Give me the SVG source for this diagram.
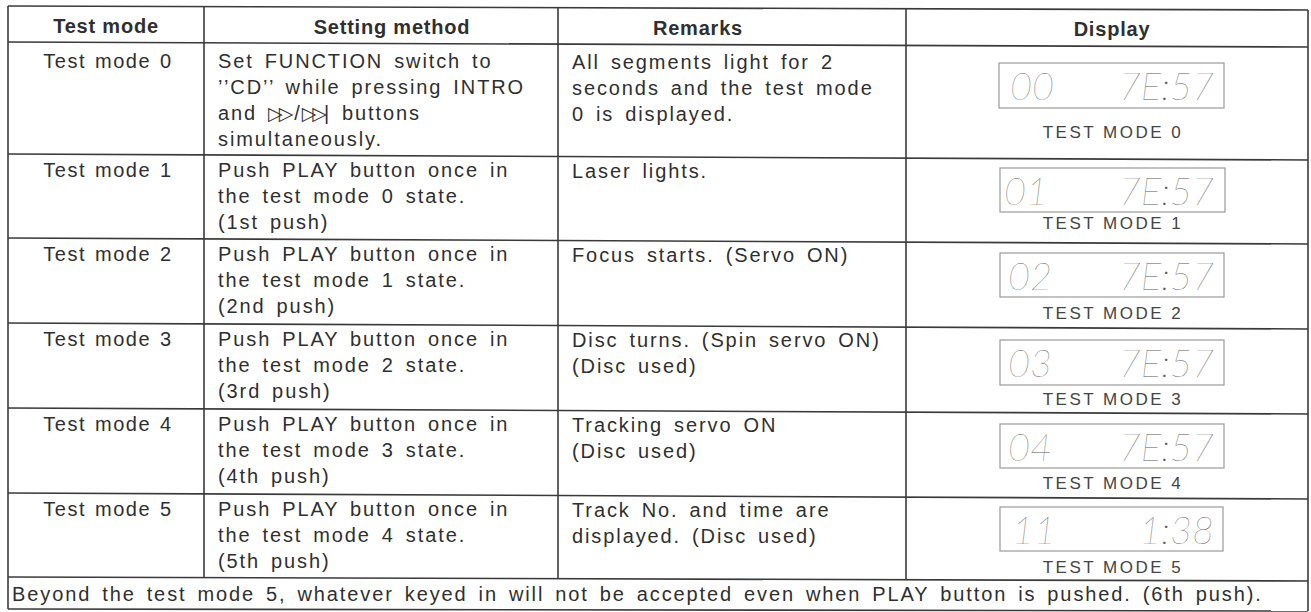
<svg xmlns="http://www.w3.org/2000/svg" width="1311" height="612" viewBox="0 0 1311 612">
<style>
.ln{stroke:#3a3a3a;stroke-width:1.6;fill:none}
.t{font-family:"Liberation Sans",Arial,sans-serif;font-size:20px;fill:#2f2f2f;letter-spacing:1.9px;word-spacing:3.5px}
.t1{font-family:"Liberation Sans",Arial,sans-serif;font-size:20px;fill:#2f2f2f;letter-spacing:1.5px;word-spacing:2px;text-anchor:middle}
.h{font-family:"Liberation Sans",Arial,sans-serif;font-size:20px;font-weight:bold;fill:#2f2f2f;letter-spacing:0.8px;text-anchor:middle}
.box{fill:none;stroke:#999;stroke-width:1.2}
.seg{font-family:Lato,Roboto,Inter,sans-serif;font-weight:200;font-style:italic;font-size:38px;fill:#5a5a5a}
.lab{font-family:"Liberation Sans",Arial,sans-serif;font-size:17px;fill:#444;letter-spacing:2.5px;text-anchor:middle}
.sym{font-family:"DejaVu Sans",sans-serif;font-size:19px;letter-spacing:-4px}
</style>
<rect width="1311" height="612" fill="#fff"/>
<g id="grid">
<line class="ln" x1="8" y1="6" x2="1308" y2="10"/>
<line class="ln" x1="8" y1="42" x2="1308" y2="47"/>
<line class="ln" x1="8" y1="154" x2="1308" y2="160"/>
<line class="ln" x1="8" y1="238" x2="1308" y2="244"/>
<line class="ln" x1="8" y1="323" x2="1308" y2="329"/>
<line class="ln" x1="8" y1="408" x2="1308" y2="414"/>
<line class="ln" x1="8" y1="493" x2="1308" y2="499"/>
<line class="ln" x1="8" y1="577" x2="1308" y2="581"/>
<line class="ln" x1="8" y1="609" x2="1308" y2="611"/>
<line class="ln" x1="8" y1="6" x2="8" y2="609"/>
<line class="ln" x1="204" y1="7" x2="204" y2="578"/>
<line class="ln" x1="558" y1="8" x2="558" y2="579"/>
<line class="ln" x1="906" y1="9" x2="906" y2="580"/>
<line class="ln" x1="1308" y1="10" x2="1308" y2="611"/>
</g>
<g id="header">
<text class="h" x="106" y="33">Test mode</text>
<text class="h" x="392" y="34">Setting method</text>
<text class="h" x="698" y="35">Remarks</text>
<text class="h" x="1112" y="36">Display</text>
</g>
<g id="row0">
<text class="t1" x="108" y="68">Test mode 0</text>
<text class="t" x="218" y="68">Set FUNCTION switch to</text>
<text class="t" x="218" y="94">’’CD’’ while pressing INTRO</text>
<text class="t" x="218" y="120">and <tspan class="sym">▷▷</tspan><tspan dx="5">/</tspan><tspan class="sym">▷▷</tspan><tspan dx="1">|</tspan> buttons</text>
<text class="t" x="218" y="146">simultaneously.</text>
<text class="t" x="572" y="69">All segments light for 2</text>
<text class="t" x="572" y="95">seconds and the test mode</text>
<text class="t" x="572" y="121">0 is displayed.</text>
<rect class="box" x="999" y="63" width="225" height="45"/>
<text class="seg" x="1010" y="100">00</text>
<text class="seg" x="1214" y="100" text-anchor="end">7E:57</text>
<text class="lab" x="1113" y="138">TEST MODE 0</text>
</g>
<g id="row1">
<text class="t1" x="108" y="177">Test mode 1</text>
<text class="t" x="218" y="177">Push PLAY button once in</text>
<text class="t" x="218" y="203">the test mode 0 state.</text>
<text class="t" x="218" y="229">(1st push)</text>
<text class="t" x="572" y="178">Laser lights.</text>
<rect class="box" x="1000" y="168" width="225" height="44"/>
<text class="seg" x="1004" y="205">01</text>
<text class="seg" x="1214" y="205" text-anchor="end">7E:57</text>
<text class="lab" x="1113" y="229">TEST MODE 1</text>
</g>
<g id="row2">
<text class="t1" x="108" y="261">Test mode 2</text>
<text class="t" x="218" y="261">Push PLAY button once in</text>
<text class="t" x="218" y="287">the test mode 1 state.</text>
<text class="t" x="218" y="313">(2nd push)</text>
<text class="t" x="572" y="262">Focus starts. (Servo ON)</text>
<rect class="box" x="1000" y="253" width="224" height="44"/>
<text class="seg" x="1008" y="290">02</text>
<text class="seg" x="1214" y="290" text-anchor="end">7E:57</text>
<text class="lab" x="1113" y="319">TEST MODE 2</text>
</g>
<g id="row3">
<text class="t1" x="108" y="346">Test mode 3</text>
<text class="t" x="218" y="346">Push PLAY button once in</text>
<text class="t" x="218" y="372">the test mode 2 state.</text>
<text class="t" x="218" y="398">(3rd push)</text>
<text class="t" x="572" y="347">Disc turns. (Spin servo ON)</text>
<text class="t" x="572" y="373">(Disc used)</text>
<rect class="box" x="1000" y="340" width="224" height="45"/>
<text class="seg" x="1008" y="377">03</text>
<text class="seg" x="1214" y="377" text-anchor="end">7E:57</text>
<text class="lab" x="1113" y="405">TEST MODE 3</text>
</g>
<g id="row4">
<text class="t1" x="108" y="431">Test mode 4</text>
<text class="t" x="218" y="431">Push PLAY button once in</text>
<text class="t" x="218" y="457">the test mode 3 state.</text>
<text class="t" x="218" y="483">(4th push)</text>
<text class="t" x="572" y="432">Tracking servo ON</text>
<text class="t" x="572" y="458">(Disc used)</text>
<rect class="box" x="1000" y="424" width="224" height="44"/>
<text class="seg" x="1008" y="461">04</text>
<text class="seg" x="1214" y="461" text-anchor="end">7E:57</text>
<text class="lab" x="1113" y="489">TEST MODE 4</text>
</g>
<g id="row5">
<text class="t1" x="108" y="516">Test mode 5</text>
<text class="t" x="218" y="516">Push PLAY button once in</text>
<text class="t" x="218" y="542">the test mode 4 state.</text>
<text class="t" x="218" y="568">(5th push)</text>
<text class="t" x="572" y="517">Track No. and time are</text>
<text class="t" x="572" y="543">displayed. (Disc used)</text>
<rect class="box" x="1000" y="507" width="223" height="44"/>
<text class="seg" x="1012" y="544">11</text>
<text class="seg" x="1214" y="544" text-anchor="end">1:38</text>
<text class="lab" x="1113" y="573">TEST MODE 5</text>
</g>
<g id="footer">
<text class="t" x="12" y="601">Beyond the test mode 5, whatever keyed in will not be accepted even when PLAY button is pushed. (6th push).</text>
</g>
</svg>
